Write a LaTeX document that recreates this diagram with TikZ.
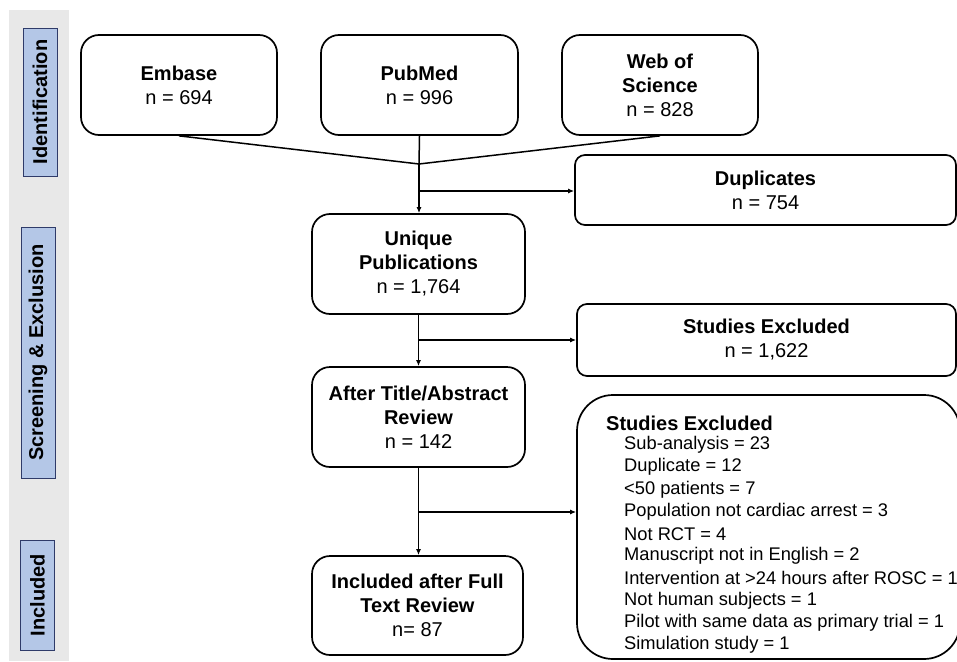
\documentclass[tikz,border=0pt]{standalone}
\usepackage{fontspec}
\setmainfont{Liberation Sans}
\usetikzlibrary{arrows.meta, positioning}
\definecolor{bandGray}{HTML}{E8E8E8}
\definecolor{phaseBlue}{HTML}{B4C7E7}
\definecolor{phaseEdge}{HTML}{2F3B69}

\begin{document}
\begin{tikzpicture}[x=1pt, y=-1pt,
    flowbox/.style={draw, line width=1.7pt, rounded corners=18pt, align=center, inner sep=0pt, font=\fontsize{20}{24}\selectfont},
    sidebox/.style={draw, line width=1.7pt, rounded corners=10pt, align=center, inner sep=0pt, font=\fontsize{20}{24}\selectfont},
    phase/.style={draw=phaseEdge, fill=phaseBlue, line width=0.9pt, rotate=90, inner sep=0pt, minimum height=34pt, font=\fontsize{20}{24}\selectfont\bfseries},
    listtext/.style={anchor=west, inner sep=0pt, font=\fontsize{18.3}{22}\selectfont},
    link/.style={line width=1.5pt},
    arr/.style={link, -{Latex[length=6pt, width=5pt]}}]
    \useasboundingbox[fill=white] (0,0) rectangle (957,661);

    % phase labels
    \fill[bandGray] (9,10) rectangle (69,661);
    \node[phase, minimum width=148pt] (idlab) at (40,102) {Identification};
    \node[phase, minimum width=251pt] (scrlab) at (38,352.5) {Screening \& Exclusion};
    \node[phase, minimum width=110pt] (inclab) at (37.5,595) {Included};

    % databases
    \node[flowbox, minimum width=196pt, minimum height=100pt] (embase) at (179,85) {\textbf{Embase}\\n = 694};
    \node[flowbox, minimum width=197pt, minimum height=100pt] (pubmed) at (419.5,85) {\textbf{PubMed}\\n = 996};
    \node[flowbox, minimum width=196pt, minimum height=100pt] (wos) at (660,85) {\textbf{Web of}\\\textbf{Science}\\n = 828};

    % main flow
    \node[flowbox, minimum width=213pt, minimum height=100pt] (unique) at (418.5,264) {\textbf{Unique}\\\textbf{Publications}\\n = 1,764};
    \node[flowbox, minimum width=213pt, minimum height=100pt] (abstr) at (418.5,417) {\textbf{After Title/Abstract}\\\textbf{Review}\\n = 142};
    \node[flowbox, minimum width=211pt, minimum height=99pt] (final) at (417.5,605.5) {\textbf{Included after Full}\\\textbf{Text Review}\\n= 87};

    % exclusions
    \node[sidebox, minimum width=381pt, minimum height=70pt] (dups) at (765.5,190) {\textbf{Duplicates}\\n = 754};
    \node[sidebox, minimum width=379pt, minimum height=72pt] (excl1) at (766.5,340) {\textbf{Studies Excluded}\\n = 1,622};
    \node[draw, line width=1.7pt, rounded corners=36pt, minimum width=383pt, minimum height=264pt, inner sep=0pt] (excl2) at (768.5,527) {};
    \node[anchor=west, inner sep=0pt, font=\fontsize{20}{24}\selectfont\bfseries] (excl2head) at (606,423) {Studies Excluded};
    \foreach \t [count=\i from 0] in {Sub-analysis = 23, Duplicate = 12, <50 patients = 7,
        Population not cardiac arrest = 3, Not RCT = 4, Manuscript not in English = 2,
        Intervention at >24 hours after ROSC = 1, Not human subjects = 1,
        Pilot with same data as primary trial = 1, Simulation study = 1} {
      \node[listtext] (reason\i) at (624,445+\i*22.2) {\t};
    }

    % connectors
    \coordinate (merge) at (419,164);
    \draw[link] (embase.south) -- (merge);
    \draw[link] (pubmed.south) -- (merge);
    \draw[link] (wos.south) -- (merge);
    \draw[arr] (merge) -- (merge |- unique.north);
    \coordinate (dupfork) at (419,191);
    \draw[arr] (dupfork) -- (dupfork -| dups.west);

    \draw[arr] (unique.south) -- (unique.south |- abstr.north);
    \coordinate (scrfork) at (unique.south |- excl1.west);
    \draw[arr] (scrfork) -- (excl1.west);

    \draw[arr] (abstr.south) -- (abstr.south |- final.north);
    \coordinate (ftfork) at (418.5,512);
    \draw[arr] (ftfork) -- (ftfork -| excl2.west);
\end{tikzpicture}
\end{document}
